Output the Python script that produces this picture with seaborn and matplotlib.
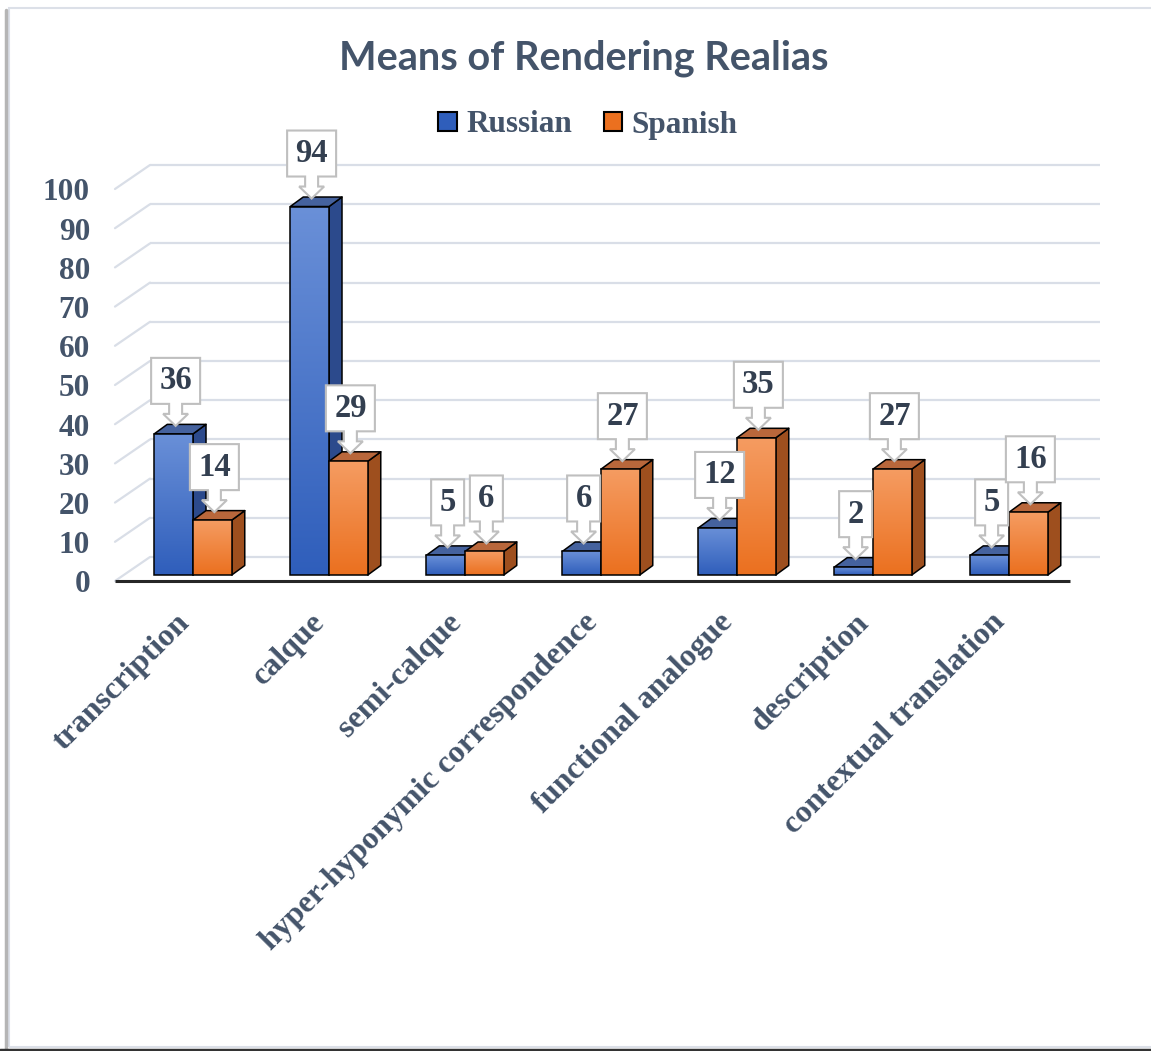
import numpy as np
import pandas as pd
import matplotlib
matplotlib.use("Agg")
import matplotlib.pyplot as plt
import matplotlib.transforms as mtransforms
from matplotlib.patches import Polygon, Patch, Rectangle
from matplotlib.lines import Line2D
from matplotlib.colors import LinearSegmentedColormap
import seaborn as sns

# ---- data -------------------------------------------------------------
categories = ["transcription", "calque", "semi-calque",
              "hyper-hyponymic correspondence", "functional analogue",
              "description", "contextual translation"]
languages = ["Russian", "Spanish"]
russian = [36, 94, 5, 6, 12, 2, 5]
spanish = [14, 29, 6, 27, 35, 27, 16]
y_ticks = [0, 10, 20, 30, 40, 50, 60, 70, 80, 90, 100]
title = "Means of Rendering Realias"

df = pd.DataFrame({
    "method": categories * 2,
    "language": ["Russian"] * len(categories) + ["Spanish"] * len(categories),
    "count": russian + spanish,
})
values = {"Russian": russian, "Spanish": spanish}

# ---- style ------------------------------------------------------------
FRONT = {"Russian": ("#2F5EBB", "#6A90D8"), "Spanish": ("#EB701F", "#F59C62")}
SIDE = {"Russian": "#2C4A8C", "Spanish": "#9E4F1E"}
TOP = {"Russian": "#45629E", "Spanish": "#B9673B"}
TEXT = "#44546A"
LABEL = "#333F50"
GRID = "#D9DEE7"

sns.set_theme(style="white")
plt.rcParams["font.family"] = ["Liberation Serif", "DejaVu Serif"]

W, H, DPI = 1151, 1051, 100
fig = plt.figure(figsize=(W / DPI, H / DPI), dpi=DPI)
fig.patch.set_facecolor("white")


def fx(px):
    return px / W


def fy(py):
    return 1 - py / H


# plot area: front edge of the floor, pixel geometry of the 3-D box
PX_CAT, PX_UNIT = 136.0, 3.92
X0_PX, Y0_PX = 193.0, 575.0
XLIM = ((115 - X0_PX) / PX_CAT, (1070 - X0_PX) / PX_CAT)
YLIM = ((Y0_PX - 581) / PX_UNIT, (Y0_PX - 165) / PX_UNIT)
ax = fig.add_axes([fx(115), fy(581), (1070 - 115) / W, (581 - 165) / H])

DX, DY = 13 / PX_CAT, 9.5 / PX_UNIT            # bar depth
WALL_X0, WALL_X1 = (150 - X0_PX) / PX_CAT, (1100 - X0_PX) / PX_CAT
WALL_DY = 18 / PX_UNIT                          # back wall lift
FLOOR_DY = (Y0_PX - 581) / PX_UNIT              # floor front edge

# back wall and side wall gridlines with value labels
for v in y_ticks:
    ax.plot([WALL_X0, WALL_X1], [v + WALL_DY] * 2, color=GRID, lw=1.6,
            solid_capstyle="butt", zorder=0.5, clip_on=False)
    ax.plot([XLIM[0], WALL_X0], [v + FLOOR_DY, v + WALL_DY], color=GRID,
            lw=1.6, zorder=0.5, clip_on=False)
    ax.text(XLIM[0] - 25 / PX_CAT, v + FLOOR_DY - 1.0, str(v), ha="right",
            va="center", fontsize=22.5, fontweight="bold", color=TEXT)

# floor front edge
ax.plot([XLIM[0], XLIM[1]], [FLOOR_DY] * 2, color="#262626", lw=2.2,
        solid_capstyle="butt", zorder=2, clip_on=False)

sns.barplot(data=df, x="method", y="count", hue="language", order=categories,
            hue_order=languages, palette=[FRONT[l][0] for l in languages],
            width=0.57, saturation=1, errorbar=None, edgecolor="black",
            linewidth=1.1, legend=False, ax=ax)

grad = np.linspace(0, 1, 256).reshape(-1, 1)
for li, (lang, cont) in enumerate(zip(languages, ax.containers)):
    cmap = LinearSegmentedColormap.from_list(lang, FRONT[lang])
    z = 3 + li
    for bar in cont:
        l, w, h = bar.get_x(), bar.get_width(), bar.get_height()
        r = l + w
        bar.set_facecolor("none")
        bar.set_zorder(z + 0.3)
        img = ax.imshow(grad, extent=[l, r, 0, h], origin="lower",
                        aspect="auto", cmap=cmap, interpolation="bicubic",
                        zorder=z + 0.2)
        img.set_clip_path(bar)
        ax.add_patch(Polygon([(r, 0), (r + DX, DY), (r + DX, h + DY), (r, h)],
                             closed=True, fc=SIDE[lang], ec="black", lw=1.1,
                             joinstyle="round", zorder=z, clip_on=False))
        ax.add_patch(Polygon([(l, h), (l + DX, h + DY), (r + DX, h + DY), (r, h)],
                             closed=True, fc=TOP[lang], ec="black", lw=1.1,
                             joinstyle="round", zorder=z + 0.1, clip_on=False))

# callout labels
for li, (lang, cont) in enumerate(zip(languages, ax.containers)):
    for bar, val in zip(cont, values[lang]):
        tx = bar.get_x() + bar.get_width() / 2 + 2 / PX_CAT
        ty = bar.get_height() + 8 / PX_UNIT
        s = str(val)
        hw = (16 * len(s) + 17) / 2
        verts = np.array([(0, 0), (12.5, 12), (6.5, 12), (6.5, 22), (hw, 22),
                          (hw, 68), (-hw, 68), (-hw, 22), (-6.5, 22),
                          (-6.5, 12), (-12.5, 12)]) / DPI
        trans = fig.dpi_scale_trans + mtransforms.ScaledTranslation(tx, ty, ax.transData)
        ax.add_patch(Polygon(verts, closed=True, fc="white", ec="#BFBFBF",
                             lw=1.5, transform=trans, zorder=10 + li,
                             clip_on=False))
        ax.annotate(s, xy=(tx, ty), xytext=(0, 45 * 72 / DPI),
                    textcoords="offset points", ha="center", va="center",
                    fontsize=23.5, fontweight="bold", color=LABEL,
                    zorder=10.5 + li, annotation_clip=False)

# category labels
for i, cat in enumerate(categories):
    ax.text(i - 0.135, FLOOR_DY - 27 / PX_UNIT, cat, rotation=45,
            rotation_mode="anchor", ha="right", va="top", fontsize=23,
            fontweight="bold", color=TEXT)

ax.set_xlim(*XLIM)
ax.set_ylim(*YLIM)
ax.set_xticks([])
ax.set_yticks([])
ax.set_xlabel("")
ax.set_ylabel("")
ax.set_facecolor("none")
for sp in ax.spines.values():
    sp.set_visible(False)

# title and legend
fig.text(fx(584), fy(58), title, ha="center", va="center", fontsize=28.5,
         fontweight="bold", color=TEXT, family=["Lato", "DejaVu Sans"])
handles = [Patch(fc=FRONT[l][0], ec="black", lw=1.5, label=l) for l in languages]
fig.legend(handles=handles, loc="center", bbox_to_anchor=(fx(588), fy(125)),
           ncol=2, frameon=False, labelcolor=TEXT,
           prop={"family": "Liberation Serif", "weight": "bold", "size": 22.5},
           handlelength=0.6, handleheight=0.6, handletextpad=0.3,
           columnspacing=1.0)

# chart frame
fig.add_artist(Line2D([fx(6), fx(6)], [fy(10), fy(1049)], color="#B5B5B5",
                      lw=2.5, transform=fig.transFigure))
fig.add_artist(Rectangle((fx(9), fy(1047)), 1.0, fy(8) - fy(1047), fill=False,
                         ec="#DCE0E8", lw=1.5, transform=fig.transFigure))
fig.add_artist(Line2D([0, 1], [fy(1050), fy(1050)], color="#333333", lw=2.5,
                      transform=fig.transFigure))

fig.savefig("out.png", dpi=DPI, facecolor="white")
